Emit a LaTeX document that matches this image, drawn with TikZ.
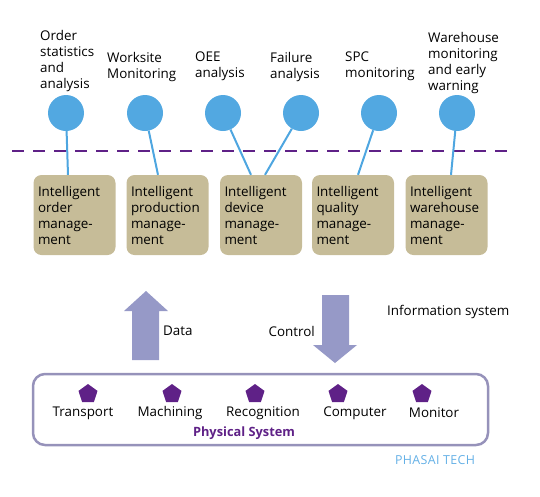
\documentclass[tikz,border=0pt]{standalone}
\usepackage{fontspec}
\setmainfont{Open Sans}
\usetikzlibrary{shapes.geometric, calc}

\definecolor{dotblue}{RGB}{82,168,225}
\definecolor{linkblue}{RGB}{78,166,224}
\definecolor{sand}{RGB}{198,188,152}
\definecolor{lilac}{RGB}{150,153,199}
\definecolor{framegray}{RGB}{150,146,186}
\definecolor{plum}{RGB}{95,33,135}
\definecolor{techblue}{RGB}{100,176,230}

\begin{document}
\begin{tikzpicture}[
    x=1pt, y=-1pt,
    every node/.style={font=\fontsize{13.4}{16}\selectfont},
    dot/.style={circle, fill=dotblue, minimum size=36pt, inner sep=0pt},
    caption/.style={anchor=north west, align=left, inner sep=0pt},
    module/.style={rectangle, rounded corners=8pt, fill=sand, minimum width=81pt, minimum height=80pt, text width=73pt, inner xsep=4.5pt, align=left},
    link/.style={draw=linkblue, line width=2pt},
    divider/.style={draw=plum, line width=2.5pt, dash pattern=on 12pt off 9pt},
    flow/.style={fill=lilac},
    device/.style={regular polygon, regular polygon sides=5, fill=plum, minimum size=20pt, inner sep=0pt},
    devlabel/.style={inner sep=0pt}
]
\useasboundingbox (0,0) rectangle (540,496);

% 분석 노드
\node[dot] (stat) at (66,113) {};
\node[dot] (site) at (145,113) {};
\node[dot] (oee)  at (223,113) {};
\node[dot] (fail) at (301,113) {};
\node[dot] (spc)  at (379,113) {};
\node[dot] (warn) at (457,113) {};

% 분석 라벨
\node[caption] (statlabel) at (40,30) {Order\\statistics\\and\\analysis};
\node[caption] (sitelabel) at (107,52) {Worksite\\Monitoring};
\node[caption] (oeelabel)  at (195,52) {OEE\\analysis};
\node[caption] (faillabel) at (270,52) {Failure\\analysis};
\node[caption] (spclabel)  at (345,52) {SPC\\monitoring};
\node[caption] (warnlabel) at (428,32) {Warehouse\\monitoring\\and early\\warning};

% 구분선
\coordinate (dl) at (12,151);
\coordinate (dr) at (508,151);
\draw[divider] (dl) -- (dr);

% 관리 모듈
\node[module] (order)      at (74.5,215) {Intelligent\\order\\manage-\\ment};
\node[module] (production) at (167.5,215) {Intelligent\\production\\manage-\\ment};
\node[module] (device)     at (261,215) {Intelligent\\device\\manage-\\ment};
\node[module] (quality)    at (353,215) {Intelligent\\quality\\manage-\\ment};
\node[module] (warehouse)  at (446.5,215) {Intelligent\\warehouse\\manage-\\ment};

% 분석 → 모듈 연결
\foreach \a/\b/\s in {stat/order/-6.5, site/production/-9.5, oee/device/-10, fail/device/4, spc/quality/5, warn/warehouse/4.5} {
    \draw[link] (\a) -- ([xshift=\s pt]\b.north);
}

% 데이터 / 제어 화살표
\fill[flow] (146,291) -- (168,311) -- (159,311) -- (159,360) -- (132,360) -- (132,311) -- (124,311) -- cycle;
\fill[flow] (322,295) -- (349,295) -- (349,345) -- (357,345) -- (335,363) -- (313,345) -- (322,345) -- cycle;
\node[anchor=west, inner sep=0pt] (data) at (163,331) {Data};
\node[anchor=east, inner sep=0pt] (control) at (315,331) {Control};
\node[anchor=west, inner sep=0pt] (infosys) at (387,312) {Information system};

% 물리 시스템
\node[draw=framegray, line width=2.5pt, rounded corners=12pt, minimum width=455pt, minimum height=71pt] (physical) at (260.5,409.5) {};

\node[device] (transport)   at (88,394) {};
\node[device] (machining)   at (172,394) {};
\node[device] (recognition) at (255,394) {};
\node[device] (computer)    at (338,394) {};
\node[device] (monitor)     at (422,394) {};

\node[devlabel] (transportlabel)   at (83,413) {Transport};
\node[devlabel] (machininglabel)   at (170,413) {Machining};
\node[devlabel] (recognitionlabel) at (263,413) {Recognition};
\node[devlabel] (computerlabel)    at (355,413) {Computer};
\node[devlabel] (monitorlabel)     at (434,413) {Monitor};

\node[inner sep=0pt, text=plum, font=\fontsize{12.8}{16}\selectfont\bfseries] (physlabel) at (244,433) {Physical System};
\node[inner sep=0pt, text=techblue, font=\fontsize{12.4}{16}\selectfont\addfontfeature{LetterSpace=3}] (brand) at (435,460) {PHASAI TECH};

\end{tikzpicture}
\end{document}
